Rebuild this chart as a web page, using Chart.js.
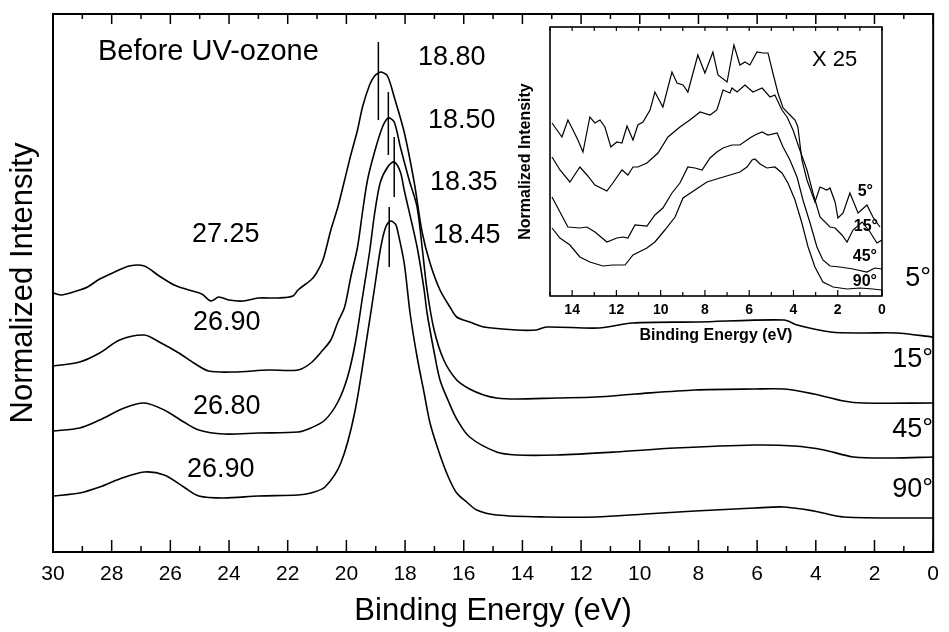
<!DOCTYPE html>
<html>
<head>
<meta charset="utf-8">
<script src="https://cdn.jsdelivr.net/npm/chart.js@4"></script>
<style>
body { margin: 0; background: #fff; }
#wrap { position: relative; width: 949px; height: 632px; }
#main { position: absolute; left: 0; top: 0; }
#inset { position: absolute; left: 500px; top: 15px; }
</style>
</head>
<body>
<div id="wrap">
<canvas id="main" width="949" height="632"></canvas>
<canvas id="inset" width="395" height="335"></canvas>
</div>
<script>
const FONT = '"Liberation Sans", Arial, sans-serif';

// main spectra (binding energy in eV, normalized intensity with offsets)
const e5 = [30.00,29.70,29.09,28.82,28.41,27.90,27.40,26.89,26.38,25.87,25.37,24.93,24.62,24.35,24.01,23.51,23.00,22.32,21.82,21.65,21.21,21.04,20.80,20.53,20.29,20.06,19.85,19.62,19.45,19.21,19.04,18.91,18.81,18.60,18.37,18.03,17.69,17.42,17.15,16.81,16.47,16.24,15.80,15.32,14.21,13.53,13.19,11.40,10.25,8.02,5.08,4.64,3.49,2.37,1.25,0.00];
const i5 = [25.9,25.7,26.2,26.5,27.3,28.0,28.6,28.6,27.6,26.7,26.2,25.8,25.1,25.5,25.2,25.1,25.4,25.4,25.6,26.2,27.2,27.8,29.2,32.2,34.5,37.2,39.7,42.2,44.5,46.7,47.6,47.9,48.0,47.6,45.5,42.0,37.0,32.0,28.9,26.2,24.5,23.5,23.0,22.5,22.2,22.2,22.5,22.4,22.9,23.0,23.2,22.7,22.0,21.9,21.9,21.5];

const e15 = [30.00,29.09,28.41,27.73,26.89,26.38,25.71,25.20,24.69,23.84,22.66,21.65,21.21,20.80,20.53,20.29,20.06,19.85,19.62,19.45,19.28,19.04,18.77,18.57,18.37,18.16,17.86,17.59,17.42,17.25,17.01,16.68,16.24,15.80,15.32,14.88,14.21,12.85,11.50,10.15,8.12,6.09,5.08,4.06,3.05,2.37,0.00];
const i15 = [18.6,19.0,19.9,21.2,21.7,21.0,19.9,18.9,18.1,18.0,18.2,18.2,18.9,20.2,21.2,23.0,24.5,27.5,30.5,34.0,37.2,40.0,42.5,43.4,43.0,40.5,37.2,34.5,30.5,26.2,22.2,19.2,17.2,16.3,15.7,15.4,15.3,15.4,15.5,15.8,16.2,16.3,16.3,15.8,15.1,14.9,14.9];

const e45 = [30.00,29.09,28.41,27.57,26.89,26.21,25.54,25.03,24.18,23.00,21.65,21.21,20.73,20.29,19.96,19.69,19.45,19.21,19.04,18.84,18.57,18.37,18.16,18.03,17.59,17.35,17.25,17.01,16.81,16.51,16.24,15.80,14.88,14.21,12.85,10.83,8.80,6.09,4.74,3.72,2.71,1.36,0.00];
const i45 = [12.1,12.4,13.2,14.4,14.9,14.2,13.0,12.2,11.8,11.9,12.0,12.4,13.2,15.0,17.5,21.0,25.5,30.0,33.8,37.0,38.6,39.0,38.0,36.2,30.5,26.2,23.9,20.0,17.2,15.0,13.3,11.5,10.0,9.7,9.7,10.0,10.4,10.7,10.6,10.2,9.5,9.4,9.5];

const e90 = [30.00,29.09,28.41,27.73,26.89,26.21,25.54,25.03,24.18,23.00,21.65,21.21,20.73,20.19,19.72,19.28,19.01,18.84,18.67,18.50,18.33,18.26,18.03,17.83,17.59,17.35,17.15,16.81,16.51,16.24,15.90,15.56,14.88,13.19,11.50,9.81,8.12,6.09,5.08,4.06,3.05,0.00];
const i90 = [5.6,5.9,6.5,7.3,8.0,7.7,6.5,5.6,5.4,5.6,5.7,5.9,6.5,8.9,13.9,21.8,27.0,30.3,32.4,33.1,32.8,32.2,28.9,23.9,19.5,15.9,12.9,9.7,7.4,5.9,5.0,4.2,3.7,3.5,3.5,3.8,4.1,4.4,4.5,4.1,3.5,3.4];

// peak position markers
const markerE = [18.91, 18.57, 18.37, 18.54];
const markerTop = [51.0, 46.0, 41.5, 34.5];
const markerBottom = [43.2, 39.7, 35.5, 28.5];

// inset valence band region (x 25)
const ie5 = [14.91,14.46,14.19,13.96,13.74,13.51,13.20,12.97,12.74,12.52,12.25,11.98,11.75,11.52,11.25,11.03,10.80,10.48,10.26,9.90,9.49,9.26,8.99,8.77,8.32,8.00,7.64,7.41,7.00,6.69,6.42,6.19,5.97,5.65,5.38,5.15,4.93,4.70,4.47,4.16,3.93,3.80,3.62,3.39,3.03,2.80,2.49,2.35,2.12,1.99,1.76,1.45,1.08,0.68,0.41,0.09];
const ii5 = [17.3,15.9,17.6,16.6,15.6,14.4,17.9,17.3,17.6,16.9,14.9,15.4,15.3,17.0,15.6,17.1,17.4,18.6,20.4,18.9,22.4,21.3,21.1,20.4,24.1,22.3,24.4,22.1,21.4,25.1,23.1,23.4,23.1,24.4,24.3,24.3,22.3,20.3,18.8,18.1,17.6,16.9,13.6,11.6,9.4,10.9,10.6,10.8,9.4,7.8,8.3,10.3,8.3,9.1,7.9,6.9];

const ie15 = [14.91,14.55,14.10,13.65,13.33,12.97,12.43,12.16,11.75,11.48,11.25,11.03,10.62,10.12,9.67,9.13,8.68,8.22,7.77,7.46,7.18,6.87,6.78,6.55,6.19,5.83,5.42,5.06,4.84,4.52,4.29,4.02,3.71,3.39,3.12,2.80,2.35,2.12,1.81,1.58,1.31,0.90,0.54,0.23,0.00];
const ii15 = [13.9,12.6,11.4,12.9,12.1,11.1,10.5,11.3,12.6,12.1,12.9,12.9,13.3,14.3,15.9,16.9,17.6,18.4,18.1,18.6,20.6,20.3,20.8,20.4,21.1,20.4,20.8,19.9,20.1,18.6,17.9,16.6,14.6,12.6,10.3,7.9,6.9,6.8,6.1,5.4,6.6,7.4,6.4,5.3,5.6];

const ie45 = [14.91,14.55,14.19,13.65,13.33,12.97,12.43,11.98,11.70,11.48,11.16,10.62,10.26,9.90,9.49,9.13,8.77,8.45,8.13,7.77,7.46,7.18,6.78,6.42,5.97,5.74,5.42,5.15,4.74,4.47,4.16,3.84,3.57,3.25,2.94,2.67,2.35,1.90,1.31,0.68,0.32,0.00];
const ii45 = [9.9,8.4,6.9,6.8,6.9,6.4,5.4,5.8,5.9,5.8,7.1,7.0,8.1,8.8,10.3,11.3,12.9,12.8,12.6,13.8,14.4,14.8,15.1,15.1,15.8,16.1,16.4,16.1,16.3,14.9,13.6,11.9,9.6,7.3,4.9,3.6,3.0,2.9,2.7,2.4,2.8,2.7];

const ie90 = [14.91,14.55,14.10,13.65,13.20,12.61,12.16,11.61,11.25,10.62,10.26,9.81,9.35,8.99,8.45,7.91,7.32,6.87,6.42,6.10,5.87,5.74,5.51,5.20,4.84,4.52,4.25,3.93,3.62,3.34,3.03,2.67,2.21,1.58,0.99,0.41,0.00];
const ii90 = [6.8,5.8,5.1,3.9,3.4,3.0,3.1,3.1,4.1,4.8,5.4,6.6,7.9,9.8,10.6,11.4,11.8,12.1,12.4,12.9,13.6,13.7,13.2,12.8,12.9,12.3,11.3,9.6,7.3,4.9,2.9,1.4,0.9,0.7,0.8,0.7,0.6];

function pts(xs, ys) {
  return xs.map((x, i) => ({x: x, y: ys[i]}));
}

function curve(xs, ys, width, tension) {
  return {
    data: pts(xs, ys),
    showLine: true,
    borderColor: '#000',
    borderWidth: width,
    pointRadius: 0,
    tension: tension,
    fill: false
  };
}

function text(ctx, s, x, y, align, font) {
  ctx.font = font;
  ctx.textAlign = align;
  ctx.textBaseline = 'middle';
  ctx.fillStyle = '#000';
  ctx.fillText(s, x, y);
}

// frame, inward ticks and annotations of the main plot
const mainDecor = {
  id: 'mainDecor',
  afterDraw(chart) {
    const {ctx, chartArea: a} = chart;
    const x = chart.scales.x;
    ctx.save();
    ctx.strokeStyle = '#000';
    ctx.lineWidth = 2;
    ctx.strokeRect(a.left, a.top, a.right - a.left, a.bottom - a.top);
    ctx.lineWidth = 1.5;
    ctx.beginPath();
    for (let v = 0; v <= 30; v++) {
      const px = x.getPixelForValue(v);
      const len = v % 2 === 0 ? 12 : 6;
      ctx.moveTo(px, a.bottom);
      ctx.lineTo(px, a.bottom - len);
      ctx.moveTo(px, a.top);
      ctx.lineTo(px, a.top + (v % 2 === 0 ? 10 : 5));
    }
    ctx.stroke();

    const f = '27px ' + FONT;
    text(ctx, 'Before UV-ozone', 98, 52, 'left', '29px ' + FONT);
    text(ctx, '18.80', 418, 58, 'left', f);
    text(ctx, '18.50', 428, 121, 'left', f);
    text(ctx, '18.35', 430, 183, 'left', f);
    text(ctx, '18.45', 433, 236, 'left', f);
    text(ctx, '27.25', 192, 235, 'left', f);
    text(ctx, '26.90', 193, 323, 'left', f);
    text(ctx, '26.80', 193, 407, 'left', f);
    text(ctx, '26.90', 187, 470, 'left', f);
    text(ctx, '5°', 931, 279, 'right', f);
    text(ctx, '15°', 933, 360, 'right', f);
    text(ctx, '45°', 933, 430, 'right', f);
    text(ctx, '90°', 933, 490, 'right', f);
    ctx.restore();
  }
};

const mainSets = [
  curve(e5, i5, 1.6, 0.3),
  curve(e15, i15, 1.6, 0.3),
  curve(e45, i45, 1.6, 0.3),
  curve(e90, i90, 1.6, 0.3)
];
markerE.forEach((e, i) => {
  mainSets.push(curve([e, e], [markerTop[i], markerBottom[i]], 1.5, 0));
});

new Chart(document.getElementById('main'), {
  type: 'scatter',
  data: { datasets: mainSets },
  options: {
    responsive: false,
    animation: false,
    devicePixelRatio: 1,
    layout: { padding: { top: 14, right: 9, left: 0, bottom: 0 } },
    plugins: { legend: { display: false }, tooltip: { enabled: false } },
    scales: {
      x: {
        type: 'linear', min: 0, max: 30, reverse: true,
        grid: { display: false, drawTicks: false },
        border: { display: false },
        ticks: { stepSize: 2, padding: 10, color: '#000', font: { family: FONT, size: 21 } },
        title: { display: true, text: 'Binding Energy (eV)', color: '#000',
                 font: { family: FONT, size: 31 }, padding: { top: 0, bottom: 2 } },
        afterFit(s) { s.height = 80; }
      },
      y: {
        min: 0, max: 53.8,
        grid: { display: false, drawTicks: false },
        border: { display: false },
        ticks: { display: false },
        title: { display: true, text: 'Normalized Intensity', color: '#000',
                 font: { family: FONT, size: 31 }, padding: { top: 5, bottom: 0 } },
        afterFit(s) { s.width = 53; }
      }
    }
  },
  plugins: [mainDecor]
});

// inset: white panel, frame, ticks and labels
const insetDecor = {
  id: 'insetDecor',
  beforeDatasetsDraw(chart) {
    const {ctx, chartArea: a} = chart;
    ctx.save();
    ctx.fillStyle = '#fff';
    ctx.fillRect(a.left, a.top, a.right - a.left, a.bottom - a.top);
    ctx.restore();
  },
  afterDraw(chart) {
    const {ctx, chartArea: a} = chart;
    const x = chart.scales.x;
    ctx.save();
    ctx.strokeStyle = '#000';
    ctx.lineWidth = 1.6;
    ctx.strokeRect(a.left, a.top, a.right - a.left, a.bottom - a.top);
    ctx.lineWidth = 1.2;
    ctx.beginPath();
    for (let v = 0; v <= 15; v++) {
      const px = x.getPixelForValue(v);
      ctx.moveTo(px, a.bottom);
      ctx.lineTo(px, a.bottom - (v % 2 === 0 ? 6 : 4));
      ctx.moveTo(px, a.top);
      ctx.lineTo(px, a.top + 4);
    }
    ctx.stroke();

    text(ctx, 'X 25', 312, 45, 'left', '22px ' + FONT);
    const b = 'bold 16px ' + FONT;
    text(ctx, '5°', 373, 177, 'right', b);
    text(ctx, '15°', 378, 212, 'right', b);
    text(ctx, '45°', 377, 242, 'right', b);
    text(ctx, '90°', 377, 267, 'right', b);
    ctx.restore();
  }
};

new Chart(document.getElementById('inset'), {
  type: 'scatter',
  data: {
    datasets: [
      curve(ie5, ii5, 1.2, 0),
      curve(ie15, ii15, 1.2, 0),
      curve(ie45, ii45, 1.2, 0),
      curve(ie90, ii90, 1.2, 0)
    ]
  },
  options: {
    responsive: false,
    animation: false,
    devicePixelRatio: 1,
    layout: { padding: { top: 12, right: 13, left: 0, bottom: 0 } },
    plugins: { legend: { display: false }, tooltip: { enabled: false } },
    scales: {
      x: {
        type: 'linear', min: 0, max: 15, reverse: true,
        grid: { display: false, drawTicks: false },
        border: { display: false },
        ticks: { stepSize: 2, includeBounds: false, padding: 6, color: '#000',
                 font: { family: FONT, size: 14, weight: 'bold' } },
        title: { display: true, text: 'Binding Energy (eV)', color: '#000',
                 font: { family: FONT, size: 16, weight: 'bold' }, padding: { top: 0, bottom: 5 } },
        afterFit(s) { s.height = 54; }
      },
      y: {
        min: 0, max: 26.9,
        grid: { display: false, drawTicks: false },
        border: { display: false },
        ticks: { display: false },
        title: { display: true, text: 'Normalized Intensity', color: '#000',
                 font: { family: FONT, size: 16, weight: 'bold' }, padding: { top: 16, bottom: 0 } },
        afterFit(s) { s.width = 50; }
      }
    }
  },
  plugins: [insetDecor]
});
</script>
</body>
</html>
